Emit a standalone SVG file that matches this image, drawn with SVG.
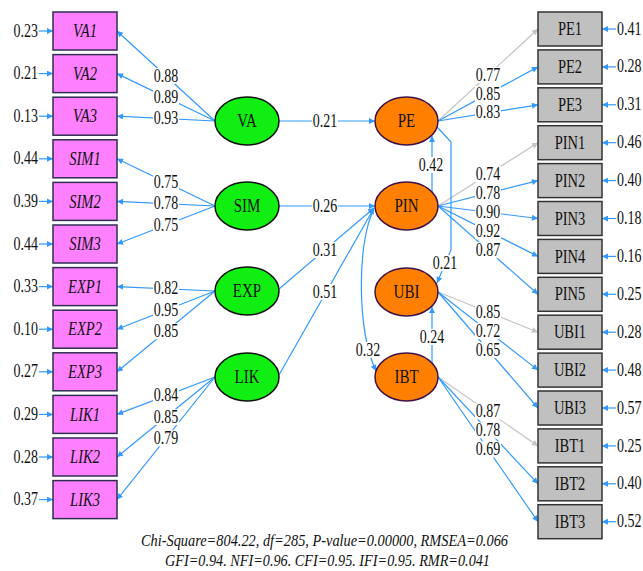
<svg xmlns="http://www.w3.org/2000/svg" width="643" height="571" viewBox="0 0 643 571">
<defs>
<marker id="ab" viewBox="0 0 10 10" refX="10" refY="5" markerWidth="8" markerHeight="6" markerUnits="userSpaceOnUse" orient="auto"><path d="M0,0 L10,5 L0,10 z" fill="#3399ff"/></marker>
<marker id="ag" viewBox="0 0 10 10" refX="10" refY="5" markerWidth="8" markerHeight="6" markerUnits="userSpaceOnUse" orient="auto"><path d="M0,0 L10,5 L0,10 z" fill="#c4c4c4"/></marker>
</defs>
<style>
text{font-family:"Liberation Serif","Times New Roman",serif;fill:#111;dominant-baseline:central;transform-box:fill-box;transform-origin:center;transform:scaleY(1.3)}
.ne{font-size:14px;text-anchor:end}
.ns{font-size:14px;text-anchor:start}
.c{font-size:14px;text-anchor:middle}
.lt{font-size:14.5px;text-anchor:middle;font-style:italic}
.rt{font-size:14.5px;text-anchor:middle}
.el{font-size:15px;text-anchor:middle}
.ft{font-size:14px;text-anchor:middle;font-style:italic;transform:scaleY(1.2)}
.b{stroke:#3399ff;stroke-width:1.2;fill:none;marker-end:url(#ab)}
.g{stroke:#c4c4c4;stroke-width:1.2;fill:none;marker-end:url(#ag)}
.bg{fill:#fff}
.lb{fill:#ff80ff;stroke:#2e2e52;stroke-width:1.5}
.rb{fill:#c0c0c0;stroke:#333;stroke-width:1.5}
.ge{fill:#11ee11;stroke:#111;stroke-width:1.5}
.oe{fill:#ff8000;stroke:#3e1248;stroke-width:1.5}
</style>
<rect width="643" height="571" fill="#fff"/>
<g id="connectors">
<!-- left error arrows -->
<path class="b" d="M39,31 H53"/><path class="b" d="M39,73.6 H53"/><path class="b" d="M39,116.2 H53"/>
<path class="b" d="M39,158.8 H53"/><path class="b" d="M39,201.4 H53"/><path class="b" d="M39,244 H53"/>
<path class="b" d="M39,286.6 H53"/><path class="b" d="M39,329.2 H53"/><path class="b" d="M39,371.8 H53"/>
<path class="b" d="M39,414.4 H53"/><path class="b" d="M39,457 H53"/><path class="b" d="M39,499.6 H53"/>
<!-- right error arrows -->
<path class="b" d="M616,29 H602"/><path class="b" d="M616,66.9 H602"/><path class="b" d="M616,104.8 H602"/>
<path class="b" d="M616,142.7 H602"/><path class="b" d="M616,180.6 H602"/><path class="b" d="M616,218.5 H602"/>
<path class="b" d="M616,256.4 H602"/><path class="b" d="M616,294.3 H602"/><path class="b" d="M616,332.2 H602"/>
<path class="b" d="M616,370.1 H602"/><path class="b" d="M616,408 H602"/><path class="b" d="M616,445.9 H602"/>
<path class="b" d="M616,483.8 H602"/><path class="b" d="M616,521.7 H602"/>
<!-- left loadings -->
<path class="b" d="M215,121 L117,31"/><path class="b" d="M215,121 L117,73.6"/><path class="b" d="M215,121 L117,116.2"/>
<path class="b" d="M215,206 L117,158.8"/><path class="b" d="M215,206 L117,201.4"/><path class="b" d="M215,206 L117,244"/>
<path class="b" d="M215,291 L117,286.6"/><path class="b" d="M215,291 L117,329.2"/><path class="b" d="M215,291 L117,371.8"/>
<path class="b" d="M215,377 L117,414.4"/><path class="b" d="M215,377 L117,457"/><path class="b" d="M215,377 L117,499.6"/>
<!-- right loadings -->
<path class="g" d="M438,121 L538,29"/><path class="b" d="M438,121 L538,66.9"/><path class="b" d="M438,121 L538,104.8"/>
<path class="g" d="M438,206 L538,142.7"/><path class="b" d="M438,206 L538,180.6"/><path class="b" d="M438,206 L538,218.5"/>
<path class="b" d="M438,206 L538,256.4"/><path class="b" d="M438,206 L538,294.3"/>
<path class="g" d="M438,292 L538,332.2"/><path class="b" d="M438,292 L538,370.1"/><path class="b" d="M438,292 L538,408"/>
<path class="g" d="M438,377 L538,445.9"/><path class="b" d="M438,377 L538,483.8"/><path class="b" d="M438,377 L538,521.7"/>
<!-- structural paths -->
<path class="b" d="M279,121 L375,121"/>
<path class="b" d="M279,206 L375,206"/>
<path class="b" d="M279,289 L374,208"/>
<path class="b" d="M279,375 L374,208"/>
<path class="b" d="M432,192 L432,136"/>
<path class="b" d="M432,363 L432,307"/>
<path class="b" d="M373,211 C357,245 357,330 376,371"/>
<path class="b" d="M437,127 L451,142 L451,250 L437,283"/>
<!-- loading label backgrounds -->
<g class="bg">
<rect x="153" y="68" width="26" height="16"/><rect x="153" y="89.3" width="26" height="16"/><rect x="153" y="110.6" width="26" height="16"/>
<rect x="153" y="174.4" width="26" height="16"/><rect x="153" y="195.7" width="26" height="16"/><rect x="153" y="217" width="26" height="16"/>
<rect x="153" y="280.8" width="26" height="16"/><rect x="153" y="302.1" width="26" height="16"/><rect x="153" y="323.4" width="26" height="16"/>
<rect x="153" y="387.7" width="26" height="16"/><rect x="153" y="409" width="26" height="16"/><rect x="153" y="430.3" width="26" height="16"/>
<rect x="475" y="67" width="26" height="16"/><rect x="475" y="86" width="26" height="16"/><rect x="475" y="104.9" width="26" height="16"/>
<rect x="475" y="166.4" width="26" height="16"/><rect x="475" y="185.3" width="26" height="16"/><rect x="475" y="204.3" width="26" height="16"/>
<rect x="475" y="223.2" width="26" height="16"/><rect x="475" y="242.2" width="26" height="16"/>
<rect x="475" y="304.1" width="26" height="16"/><rect x="475" y="323.1" width="26" height="16"/><rect x="475" y="342" width="26" height="16"/>
<rect x="475" y="403.5" width="26" height="16"/><rect x="475" y="422.4" width="26" height="16"/><rect x="475" y="441.4" width="26" height="16"/>
<rect x="312" y="113" width="26" height="16"/><rect x="312" y="198" width="26" height="16"/>
<rect x="312" y="242" width="26" height="16"/><rect x="312" y="284" width="26" height="16"/>
<rect x="418" y="157" width="26" height="16"/><rect x="419" y="329" width="26" height="16"/>
<rect x="355" y="342" width="26" height="16"/><rect x="432" y="255" width="26" height="16"/>
</g>
<text class="c" x="166" y="76">0.88</text><text class="c" x="166" y="97.3">0.89</text><text class="c" x="166" y="118.6">0.93</text>
<text class="c" x="166" y="182.4">0.75</text><text class="c" x="166" y="203.7">0.78</text><text class="c" x="166" y="225">0.75</text>
<text class="c" x="166" y="288.8">0.82</text><text class="c" x="166" y="310.1">0.95</text><text class="c" x="166" y="331.4">0.85</text>
<text class="c" x="166" y="395.7">0.84</text><text class="c" x="166" y="417">0.85</text><text class="c" x="166" y="438.3">0.79</text>
<text class="c" x="488" y="75">0.77</text><text class="c" x="488" y="94">0.85</text><text class="c" x="488" y="112.9">0.83</text>
<text class="c" x="488" y="174.4">0.74</text><text class="c" x="488" y="193.3">0.78</text><text class="c" x="488" y="212.3">0.90</text>
<text class="c" x="488" y="231.2">0.92</text><text class="c" x="488" y="250.2">0.87</text>
<text class="c" x="488" y="312.1">0.85</text><text class="c" x="488" y="331.1">0.72</text><text class="c" x="488" y="350">0.65</text>
<text class="c" x="488" y="411.5">0.87</text><text class="c" x="488" y="430.4">0.78</text><text class="c" x="488" y="449.4">0.69</text>
<text class="c" x="325" y="121">0.21</text><text class="c" x="325" y="206">0.26</text>
<text class="c" x="325" y="250">0.31</text><text class="c" x="325" y="292">0.51</text>
<text class="c" x="431" y="165">0.42</text><text class="c" x="432" y="337">0.24</text>
<text class="c" x="368" y="350">0.32</text><text class="c" x="445" y="263">0.21</text>
</g>
<!-- left indicator boxes -->
<g id="VA1"><rect class="lb" x="53" y="12" width="64" height="38"/><text class="lt" x="85" y="31">VA1</text><text class="ne" x="38" y="31">0.23</text></g>
<g id="VA2"><rect class="lb" x="53" y="54.6" width="64" height="38"/><text class="lt" x="85" y="73.6">VA2</text><text class="ne" x="38" y="73.6">0.21</text></g>
<g id="VA3"><rect class="lb" x="53" y="97.2" width="64" height="38"/><text class="lt" x="85" y="116.2">VA3</text><text class="ne" x="38" y="116.2">0.13</text></g>
<g id="SIM1"><rect class="lb" x="53" y="139.8" width="64" height="38"/><text class="lt" x="85" y="158.8">SIM1</text><text class="ne" x="38" y="158.8">0.44</text></g>
<g id="SIM2"><rect class="lb" x="53" y="182.4" width="64" height="38"/><text class="lt" x="85" y="201.4">SIM2</text><text class="ne" x="38" y="201.4">0.39</text></g>
<g id="SIM3"><rect class="lb" x="53" y="225" width="64" height="38"/><text class="lt" x="85" y="244">SIM3</text><text class="ne" x="38" y="244">0.44</text></g>
<g id="EXP1"><rect class="lb" x="53" y="267.6" width="64" height="38"/><text class="lt" x="85" y="286.6">EXP1</text><text class="ne" x="38" y="286.6">0.33</text></g>
<g id="EXP2"><rect class="lb" x="53" y="310.2" width="64" height="38"/><text class="lt" x="85" y="329.2">EXP2</text><text class="ne" x="38" y="329.2">0.10</text></g>
<g id="EXP3"><rect class="lb" x="53" y="352.8" width="64" height="38"/><text class="lt" x="85" y="371.8">EXP3</text><text class="ne" x="38" y="371.8">0.27</text></g>
<g id="LIK1"><rect class="lb" x="53" y="395.4" width="64" height="38"/><text class="lt" x="85" y="414.4">LIK1</text><text class="ne" x="38" y="414.4">0.29</text></g>
<g id="LIK2"><rect class="lb" x="53" y="438" width="64" height="38"/><text class="lt" x="85" y="457">LIK2</text><text class="ne" x="38" y="457">0.28</text></g>
<g id="LIK3"><rect class="lb" x="53" y="480.6" width="64" height="38"/><text class="lt" x="85" y="499.6">LIK3</text><text class="ne" x="38" y="499.6">0.37</text></g>
<!-- right indicator boxes -->
<g id="PE1"><rect class="rb" x="538" y="12" width="64" height="34"/><text class="rt" x="570" y="29">PE1</text><text class="ns" x="617" y="29">0.41</text></g>
<g id="PE2"><rect class="rb" x="538" y="49.9" width="64" height="34"/><text class="rt" x="570" y="66.9">PE2</text><text class="ns" x="617" y="66.9">0.28</text></g>
<g id="PE3"><rect class="rb" x="538" y="87.8" width="64" height="34"/><text class="rt" x="570" y="104.8">PE3</text><text class="ns" x="617" y="104.8">0.31</text></g>
<g id="PIN1"><rect class="rb" x="538" y="125.7" width="64" height="34"/><text class="rt" x="570" y="142.7">PIN1</text><text class="ns" x="617" y="142.7">0.46</text></g>
<g id="PIN2"><rect class="rb" x="538" y="163.6" width="64" height="34"/><text class="rt" x="570" y="180.6">PIN2</text><text class="ns" x="617" y="180.6">0.40</text></g>
<g id="PIN3"><rect class="rb" x="538" y="201.5" width="64" height="34"/><text class="rt" x="570" y="218.5">PIN3</text><text class="ns" x="617" y="218.5">0.18</text></g>
<g id="PIN4"><rect class="rb" x="538" y="239.4" width="64" height="34"/><text class="rt" x="570" y="256.4">PIN4</text><text class="ns" x="617" y="256.4">0.16</text></g>
<g id="PIN5"><rect class="rb" x="538" y="277.3" width="64" height="34"/><text class="rt" x="570" y="294.3">PIN5</text><text class="ns" x="617" y="294.3">0.25</text></g>
<g id="UBI1"><rect class="rb" x="538" y="315.2" width="64" height="34"/><text class="rt" x="570" y="332.2">UBI1</text><text class="ns" x="617" y="332.2">0.28</text></g>
<g id="UBI2"><rect class="rb" x="538" y="353.1" width="64" height="34"/><text class="rt" x="570" y="370.1">UBI2</text><text class="ns" x="617" y="370.1">0.48</text></g>
<g id="UBI3"><rect class="rb" x="538" y="391" width="64" height="34"/><text class="rt" x="570" y="408">UBI3</text><text class="ns" x="617" y="408">0.57</text></g>
<g id="IBT1"><rect class="rb" x="538" y="428.9" width="64" height="34"/><text class="rt" x="570" y="445.9">IBT1</text><text class="ns" x="617" y="445.9">0.25</text></g>
<g id="IBT2"><rect class="rb" x="538" y="466.8" width="64" height="34"/><text class="rt" x="570" y="483.8">IBT2</text><text class="ns" x="617" y="483.8">0.40</text></g>
<g id="IBT3"><rect class="rb" x="538" y="504.7" width="64" height="34"/><text class="rt" x="570" y="521.7">IBT3</text><text class="ns" x="617" y="521.7">0.52</text></g>
<!-- latent variables -->
<g id="VA"><ellipse class="ge" cx="247" cy="121" rx="32" ry="24"/><text class="el" x="247" y="121">VA</text></g>
<g id="SIM"><ellipse class="ge" cx="247" cy="206" rx="32" ry="24"/><text class="el" x="247" y="206">SIM</text></g>
<g id="EXP"><ellipse class="ge" cx="247" cy="291" rx="32" ry="24"/><text class="el" x="247" y="291">EXP</text></g>
<g id="LIK"><ellipse class="ge" cx="247" cy="377" rx="32" ry="24"/><text class="el" x="247" y="377">LIK</text></g>
<g id="PE"><ellipse class="oe" cx="406.5" cy="121" rx="31.5" ry="24"/><text class="el" x="406.5" y="121">PE</text></g>
<g id="PIN"><ellipse class="oe" cx="406.5" cy="206" rx="31.5" ry="24"/><text class="el" x="406.5" y="206">PIN</text></g>
<g id="UBI"><ellipse class="oe" cx="406.5" cy="292" rx="31.5" ry="24"/><text class="el" x="406.5" y="292">UBI</text></g>
<g id="IBT"><ellipse class="oe" cx="406.5" cy="377" rx="31.5" ry="24"/><text class="el" x="406.5" y="377">IBT</text></g>
<g id="fit">
<text class="ft" x="324.5" y="540" textLength="367" lengthAdjust="spacingAndGlyphs">Chi-Square=804.22, df=285, P-value=0.00000, RMSEA=0.066</text>
<text class="ft" x="327.5" y="560.5" textLength="325" lengthAdjust="spacingAndGlyphs">GFI=0.94. NFI=0.96. CFI=0.95. IFI=0.95. RMR=0.041</text>
</g>
</svg>
